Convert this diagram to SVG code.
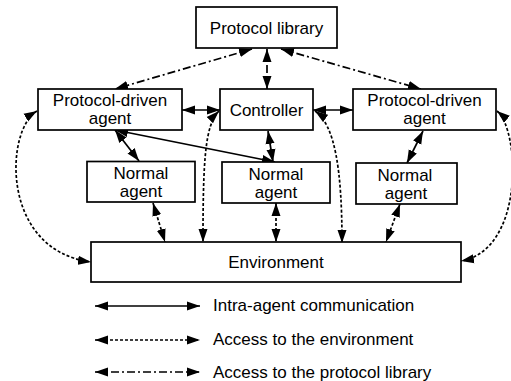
<svg xmlns="http://www.w3.org/2000/svg" width="511" height="381" viewBox="0 0 511 381">
<style>
.box{fill:#fff;stroke:#000;stroke-width:1.7}
text{font-family:"Liberation Sans",Arial,sans-serif;font-size:17px;fill:#000}
.c{text-anchor:middle}
.ln{fill:none;stroke:#000;stroke-width:1.7;marker-start:url(#ah);marker-end:url(#ah)}
.dot{stroke-dasharray:3 2}
.dd{stroke-dasharray:8 3 2 3}
</style>
<defs>
<marker id="ah" markerUnits="userSpaceOnUse" markerWidth="14" markerHeight="10" refX="13" refY="5" orient="auto-start-reverse">
<path d="M0,0.5 L13,5 L0,9.5 z" fill="#000"/>
</marker>
</defs>
<rect width="511" height="381" fill="#fff"/>
<g id="connectors">
<line class="ln dd" x1="252" y1="49" x2="115" y2="89"/>
<line class="ln dd" x1="267" y1="49" x2="267" y2="89"/>
<line class="ln dd" x1="281" y1="49" x2="421" y2="89"/>
<line class="ln" x1="182" y1="110" x2="220" y2="110"/>
<line class="ln" x1="313" y1="110" x2="353" y2="110"/>
<line class="ln" x1="115" y1="130" x2="139" y2="161"/>
<line class="ln" x1="115" y1="130" x2="275" y2="162"/>
<line class="ln" x1="268" y1="131" x2="273" y2="162"/>
<line class="ln" x1="423" y1="131" x2="407" y2="163"/>
<line class="ln dot" x1="153" y1="203" x2="165" y2="242"/>
<line class="ln dot" x1="276" y1="203" x2="276" y2="242"/>
<line class="ln dot" x1="400" y1="204" x2="386" y2="242"/>
<path class="ln dot" d="M37,111 C5,130 0,250 91,262"/>
<path class="ln dot" d="M497,111 C520,130 525,250 461,261"/>
<path class="ln dot" d="M219,111 C205,125 203,160 203,242"/>
<path class="ln dot" d="M315,111 C335,125 342,170 342,243"/>
<line class="ln" x1="95" y1="306" x2="200" y2="306"/>
<line class="ln dot" x1="95" y1="340" x2="200" y2="340"/>
<line class="ln dd" x1="95" y1="372" x2="200" y2="372"/>
</g>
<g id="protocol-library"><rect class="box" x="196" y="7" width="141" height="41"/><text class="c" x="266.5" y="34">Protocol library</text></g>
<g id="pda-left"><rect class="box" x="38" y="89" width="144" height="41"/><text class="c" x="110" y="106">Protocol-driven</text><text class="c" x="110" y="124">agent</text></g>
<g id="controller"><rect class="box" x="220" y="89" width="93" height="41"/><text class="c" x="266.5" y="116">Controller</text></g>
<g id="pda-right"><rect class="box" x="353" y="89" width="143" height="41"/><text class="c" x="424.5" y="106">Protocol-driven</text><text class="c" x="424.5" y="124">agent</text></g>
<g id="normal-1"><rect class="box" x="87" y="161.5" width="108" height="40.5"/><text class="c" x="141" y="179">Normal</text><text class="c" x="141" y="197">agent</text></g>
<g id="normal-2"><rect class="box" x="222" y="162" width="108" height="41"/><text class="c" x="276" y="180">Normal</text><text class="c" x="276" y="198">agent</text></g>
<g id="normal-3"><rect class="box" x="356" y="163" width="101" height="41"/><text class="c" x="405" y="181">Normal</text><text class="c" x="406" y="199">agent</text></g>
<g id="environment"><rect class="box" x="91" y="242" width="370" height="40"/><text class="c" x="276" y="268">Environment</text></g>
<g id="legend">
<text x="213" y="311">Intra-agent communication</text>
<text x="213" y="345">Access to the environment</text>
<text x="213" y="378">Access to the protocol library</text>
</g>
</svg>
